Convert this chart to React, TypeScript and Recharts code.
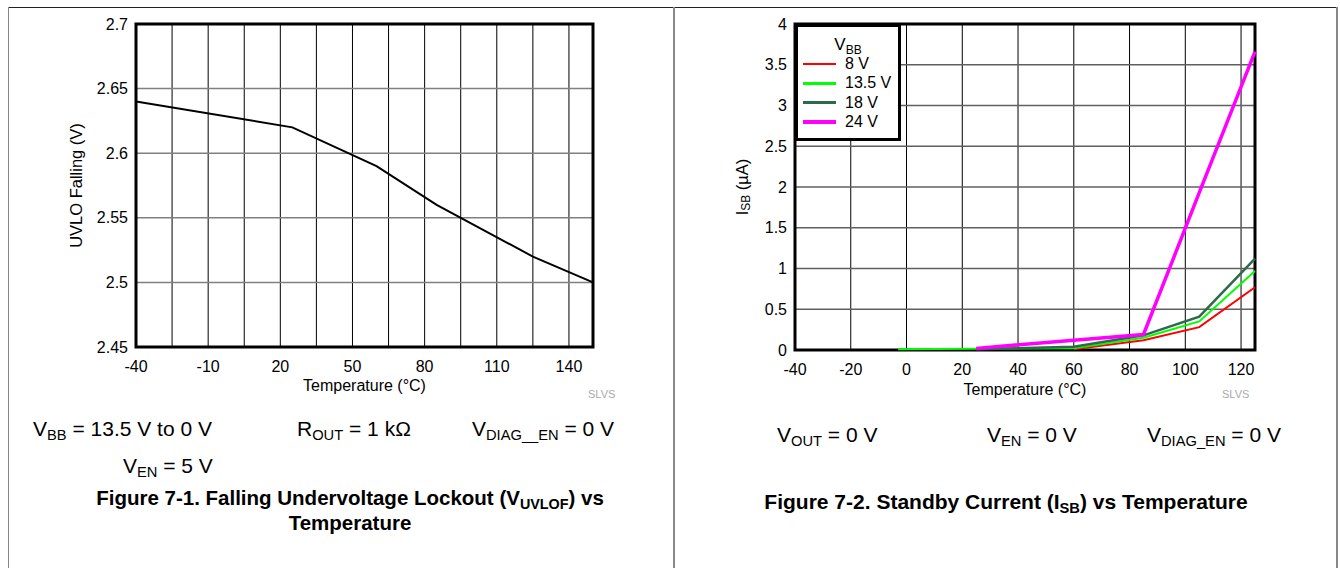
import React from "react";
import {
  LineChart,
  Line,
  XAxis,
  YAxis,
  CartesianGrid,
  ReferenceArea,
  Legend,
} from "recharts";

// Figure 7-1: UVLO falling vs temperature
const uvloTemps = [-40, 25, 60, 85, 125, 150];
const uvloFalling = [2.64, 2.62, 2.59, 2.56, 2.52, 2.5];
const uvloXTicks = [-40, -10, 20, 50, 80, 110, 140];
const uvloXGrid = [-25, -10, 5, 20, 35, 50, 65, 80, 95, 110, 125, 140];
const uvloYTicks = [2.45, 2.5, 2.55, 2.6, 2.65, 2.7];

// Figure 7-2: standby current vs temperature
const isbTemps = [-3, 25, 60, 85, 105, 125];
const isb8V = [null, null, 0.01, 0.12, 0.28, 0.77];
const isb13V5 = [0.01, 0.015, 0.02, 0.15, 0.35, 0.97];
const isb18V = [null, 0.01, 0.04, 0.18, 0.41, 1.12];
const isb24V = [null, 0.02, 0.12, 0.19, 1.93, 3.66];
const isbXTicks = [-40, -20, 0, 20, 40, 60, 80, 100, 120];
const isbXGrid = [-20, 0, 20, 40, 60, 80, 100, 120];
const isbYTicks = [0, 0.5, 1, 1.5, 2, 2.5, 3, 3.5, 4];
const isbSeries = [
  { key: "v8", name: "8 V", color: "#ff0000", width: 2 },
  { key: "v135", name: "13.5 V", color: "#00ff00", width: 2 },
  { key: "v18", name: "18 V", color: "#2d6a4c", width: 2.5 },
  { key: "v24", name: "24 V", color: "#ff00ff", width: 3.5 },
];

const uvloData = uvloTemps.map((t, i) => ({ t, v: uvloFalling[i] }));
const isbData = isbTemps.map((t, i) => ({
  t,
  v8: isb8V[i],
  v135: isb13V5[i],
  v18: isb18V[i],
  v24: isb24V[i],
}));

const FONT = '"Liberation Sans", Arial, Helvetica, sans-serif';
const tickStyle = { fontSize: 16, fill: "#000", fontFamily: FONT };

const yTitle = (main, sub, rest, dx) => (props) => {
  const { x, y, height } = props.viewBox;
  const cx = x + dx;
  const cy = y + height / 2;
  return (
    <text
      x={cx}
      y={cy}
      transform={`rotate(-90 ${cx} ${cy})`}
      textAnchor="middle"
      dominantBaseline="central"
      fontSize={16.5}
      fontFamily={FONT}
      fill="#000"
    >
      {main}
      {sub && (
        <tspan fontSize={12} dy={4}>
          {sub}
        </tspan>
      )}
      {sub ? <tspan dy={-4}>{rest}</tspan> : rest}
    </text>
  );
};

const xTitle = (dy) => (props) => {
  const { x, y, width } = props.viewBox;
  return (
    <text
      x={x + width / 2}
      y={y + dy}
      textAnchor="middle"
      fontSize={16}
      fontFamily={FONT}
      fill="#000"
    >
      Temperature (°C)
    </text>
  );
};

const fmt = (v) => String(Number(v.toFixed(2)));

const IsbLegend = () => (
  <div
    style={{
      position: "relative",
      width: 106,
      height: 117,
      boxSizing: "border-box",
      border: "3px solid #000",
      background: "#fff",
      fontFamily: FONT,
      fontSize: 16,
      color: "#000",
    }}
  >
    <div style={{ position: "absolute", left: 0, width: 100, top: 9, textAlign: "center", fontSize: 17, lineHeight: 1 }}>
      V<sub style={{ fontSize: 12 }}>BB</sub>
    </div>
    {isbSeries.map((s, i) => (
      <div
        key={s.key}
        style={{ position: "absolute", left: 5, top: 28 + i * 19.3, height: 18, display: "flex", alignItems: "center" }}
      >
        <span
          style={{
            display: "inline-block",
            width: 33,
            height: Math.max(2.5, s.width),
            background: s.color,
            marginRight: 9,
          }}
        />
        <span>{s.name}</span>
      </div>
    ))}
  </div>
);

const Sub = ({ children }) => (
  <span style={{ fontSize: "0.7em", position: "relative", top: "0.25em", lineHeight: 0 }}>{children}</span>
);

const Caption = ({ left, top, children, bold = false, size = 21 }) => (
  <div
    style={{
      position: "absolute",
      left,
      top,
      whiteSpace: "nowrap",
      fontFamily: FONT,
      fontSize: size,
      fontWeight: bold ? "bold" : "normal",
      color: "#000",
      lineHeight: 1,
    }}
  >
    {children}
  </div>
);

const App = () => {
  return (
    <div
      style={{
        position: "absolute",
        left: 0,
        top: 0,
        width: 1340,
        height: 568,
        background: "#fff",
        overflow: "hidden",
      }}
    >
      {/* frame */}
      <div style={{ position: "absolute", left: 8, top: 7, width: 1330, height: 0, borderTop: "1.5px solid #222" }} />
      <div style={{ position: "absolute", left: 8, top: 7, width: 0, height: 561, borderLeft: "1.5px solid #888" }} />
      <div style={{ position: "absolute", left: 673, top: 7, width: 0, height: 561, borderLeft: "2px solid #888" }} />
      <div style={{ position: "absolute", left: 1336, top: 7, width: 0, height: 561, borderLeft: "2px solid #888" }} />

      {/* left chart */}
      <div style={{ position: "absolute", left: 0, top: 0 }}>
        <LineChart
          width={670}
          height={410}
          data={uvloData}
          margin={{ top: 24, right: 77, left: 66, bottom: 13 }}
        >
          <CartesianGrid horizontal={false} verticalValues={uvloXGrid} stroke="#000" strokeWidth={1} />
          <CartesianGrid vertical={false} horizontalValues={uvloYTicks} stroke="#808080" strokeWidth={1.5} />
          <XAxis
            type="number"
            dataKey="t"
            domain={[-40, 150]}
            ticks={uvloXTicks}
            axisLine={false}
            tickLine={false}
            tickSize={6}
            tickMargin={8}
            height={50}
            tick={tickStyle}
            label={{ content: xTitle(44) }}
          />
          <YAxis
            type="number"
            domain={[2.45, 2.7]}
            ticks={uvloYTicks}
            tickFormatter={fmt}
            axisLine={false}
            tickLine={false}
            tickSize={6}
            tickMargin={2}
            width={70}
            tick={tickStyle}
            label={{ content: yTitle("UVLO Falling (V)", null, "", 10) }}
          />
          <Line
            dataKey="v"
            stroke="#000"
            strokeWidth={2}
            dot={false}
            isAnimationActive={false}
          />
          <ReferenceArea
            x1={-40}
            x2={150}
            y1={2.45}
            y2={2.7}
            fill="none"
            stroke="#000"
            strokeWidth={3}
            ifOverflow="visible"
          />
        </LineChart>
      </div>

      {/* right chart */}
      <div style={{ position: "absolute", left: 670, top: 0 }}>
        <LineChart
          width={670}
          height={410}
          data={isbData}
          margin={{ top: 24, right: 85, left: 55, bottom: 10 }}
        >
          <CartesianGrid horizontal={false} verticalValues={isbXGrid} stroke="#000" strokeWidth={1} />
          <CartesianGrid vertical={false} horizontalValues={isbYTicks} stroke="#606060" strokeWidth={1.5} />
          <XAxis
            type="number"
            dataKey="t"
            domain={[-40, 125]}
            ticks={isbXTicks}
            axisLine={false}
            tickLine={false}
            tickSize={6}
            tickMargin={8}
            height={50}
            tick={tickStyle}
            label={{ content: xTitle(45) }}
          />
          <YAxis
            type="number"
            domain={[0, 4]}
            ticks={isbYTicks}
            tickFormatter={fmt}
            axisLine={false}
            tickLine={false}
            tickSize={6}
            tickMargin={2}
            width={70}
            tick={tickStyle}
            label={{ content: yTitle("I", "SB", " (µA)", 17) }}
          />
          {isbSeries.map((s) => (
            <Line
              key={s.key}
              dataKey={s.key}
              name={s.name}
              stroke={s.color}
              strokeWidth={s.width}
              dot={false}
              isAnimationActive={false}
            />
          ))}
          <ReferenceArea
            x1={-40}
            x2={125}
            y1={0}
            y2={4}
            fill="none"
            stroke="#000"
            strokeWidth={3}
            ifOverflow="visible"
          />
          <Legend
            layout="vertical"
            align="center"
            verticalAlign="middle"
            wrapperStyle={{ left: 125, top: 24, width: 106 }}
            content={<IsbLegend />}
          />
        </LineChart>
      </div>

      {/* watermarks */}
      <Caption left={588} top={389} size={11}>
        <span style={{ color: "#aaa" }}>SLVS</span>
      </Caption>
      <Caption left={1222} top={389} size={11}>
        <span style={{ color: "#aaa" }}>SLVS</span>
      </Caption>

      {/* left conditions */}
      <Caption left={33} top={418}>
        V<Sub>BB</Sub> = 13.5 V to 0 V
      </Caption>
      <Caption left={297} top={418}>
        R<Sub>OUT</Sub> = 1 kΩ
      </Caption>
      <Caption left={472} top={418}>
        V<Sub>DIAG__EN</Sub> = 0 V
      </Caption>
      <Caption left={123} top={455}>
        V<Sub>EN</Sub> = 5 V
      </Caption>
      <div
        style={{
          position: "absolute",
          left: 40,
          width: 620,
          top: 485,
          textAlign: "center",
          fontFamily: FONT,
          fontSize: 20.5,
          fontWeight: "bold",
          lineHeight: "25px",
        }}
      >
        Figure 7-1. Falling Undervoltage Lockout (V<Sub>UVLOF</Sub>) vs
        <br />
        Temperature
      </div>

      {/* right conditions */}
      <Caption left={777} top={424}>
        V<Sub>OUT</Sub> = 0 V
      </Caption>
      <Caption left={987} top={424}>
        V<Sub>EN</Sub> = 0 V
      </Caption>
      <Caption left={1147} top={424}>
        V<Sub>DIAG_EN</Sub> = 0 V
      </Caption>
      <div
        style={{
          position: "absolute",
          left: 686,
          width: 640,
          top: 489,
          textAlign: "center",
          fontFamily: FONT,
          fontSize: 21,
          fontWeight: "bold",
          lineHeight: "25px",
        }}
      >
        Figure 7-2. Standby Current (I<Sub>SB</Sub>) vs Temperature
      </div>
    </div>
  );
};

export default App;
